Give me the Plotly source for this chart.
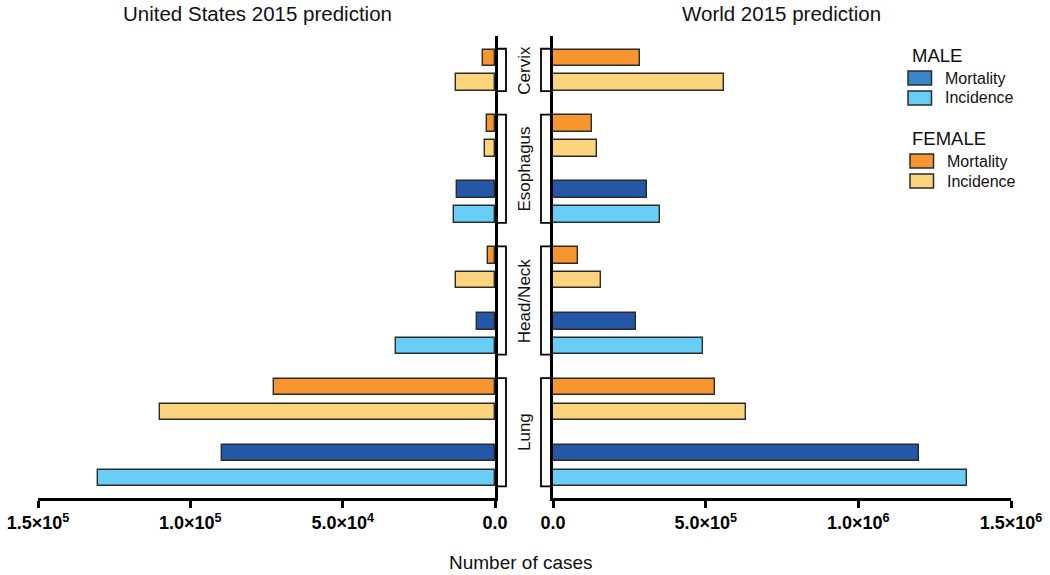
import plotly.graph_objects as go

# ---------------- data ----------------
categories = ["Cervix", "Esophagus", "Head/Neck", "Lung"]

us_female_mortality = [3940, 2740, 2410, 72640]
us_female_incidence = [12700, 3280, 12900, 110060]
us_male_mortality = [None, 12470, 5800, 89600]
us_male_incidence = [None, 13460, 32500, 130200]

world_female_mortality = [285000, 129000, 82000, 532000]
world_female_incidence = [560000, 144000, 158000, 631000]
world_male_mortality = [None, 307000, 271000, 1200000]
world_male_incidence = [None, 352000, 490000, 1355000]

us_ticks = [150000, 100000, 50000, 0]
us_ticktext = ["1.5×10<sup>5</sup>", "1.0×10<sup>5</sup>", "5.0×10<sup>4</sup>", "0.0"]
world_ticks = [0, 500000, 1000000, 1500000]
world_ticktext = ["0.0", "5.0×10<sup>5</sup>", "1.0×10<sup>6</sup>", "1.5×10<sup>6</sup>"]

# ---------------- style ----------------
W, H = 1050, 575
FONT = "Liberation Sans, Arial, sans-serif"
C_MM = "#2457A6"      # male mortality (bars)
C_MM_LEG = "#3A86C8"  # male mortality (legend swatch)
C_MI = "#68CEF5"
C_FM = "#F7962F"
C_FI = "#FDD47E"
OUT = "#2b2b2b"

def px_x(p):
    return p / W

def px_y(p):
    return 1 - p / H

# ---------------- bar slot positions (computed) ----------------
PAIR = 3   # distance between bars of a pair
GAP = 5    # distance between pairs
pos = {"fm": [], "fi": [], "mm": [], "mi": []}
groups = []
cur = 0
for i, cat in enumerate(categories):
    start = cur
    pos["fm"].append(cur)
    pos["fi"].append(cur + PAIR)
    end = cur + PAIR
    if us_male_mortality[i] is not None:
        pos["mm"].append(cur + PAIR + GAP)
        pos["mi"].append(cur + 2 * PAIR + GAP)
        end = cur + 2 * PAIR + GAP
    else:
        pos["mm"].append(None)
        pos["mi"].append(None)
    groups.append((cat, start, end))
    cur = end + GAP

y_lo, y_hi = -2.65, groups[-1][2] + 2.45

fig = go.Figure()

def add_bars(vals, key, color, xa, ya, name):
    xs, ys = [], []
    for v, p in zip(vals, pos[key]):
        if v is not None and p is not None:
            xs.append(v)
            ys.append(p)
    fig.add_trace(go.Bar(
        x=xs, y=ys, orientation="h", width=2, name=name,
        marker=dict(color=color, line=dict(color=OUT, width=1.4)),
        xaxis=xa, yaxis=ya, showlegend=False, hoverinfo="x"))

add_bars(us_female_mortality, "fm", C_FM, "x", "y", "Female mortality")
add_bars(us_female_incidence, "fi", C_FI, "x", "y", "Female incidence")
add_bars(us_male_mortality, "mm", C_MM, "x", "y", "Male mortality")
add_bars(us_male_incidence, "mi", C_MI, "x", "y", "Male incidence")
add_bars(world_female_mortality, "fm", C_FM, "x2", "y2", "Female mortality")
add_bars(world_female_incidence, "fi", C_FI, "x2", "y2", "Female incidence")
add_bars(world_male_mortality, "mm", C_MM, "x2", "y2", "Male mortality")
add_bars(world_male_incidence, "mi", C_MI, "x2", "y2", "Male incidence")

ydom = [px_y(498), px_y(36)]
axis_common = dict(showline=True, linecolor="black", linewidth=2.5, showgrid=False,
                   zeroline=False, ticks="outside", ticklen=7, tickwidth=2.5,
                   tickcolor="black", fixedrange=True, automargin=False,
                   tickfont=dict(family=FONT, size=18, color="black"))
yaxis_common = dict(showline=True, linecolor="black", linewidth=2.5, showgrid=False,
                    zeroline=False, showticklabels=False, ticks="", fixedrange=True,
                    automargin=False, range=[y_hi, y_lo], domain=ydom)

fig.update_layout(
    width=W, height=H,
    margin=dict(l=0, r=0, t=0, b=0, autoexpand=False),
    paper_bgcolor="white", plot_bgcolor="white",
    showlegend=False, bargap=0,
    xaxis=dict(domain=[px_x(38), px_x(495)], range=[150000, 0], anchor="y",
               tickvals=us_ticks, ticktext=["<b>%s</b>" % t for t in us_ticktext],
               **axis_common),
    xaxis2=dict(domain=[px_x(553), px_x(1011)], range=[0, 1500000], anchor="y2",
                tickvals=world_ticks, ticktext=["<b>%s</b>" % t for t in world_ticktext],
                **axis_common),
    yaxis=dict(anchor="x", side="right", **yaxis_common),
    yaxis2=dict(anchor="x2", side="left", **yaxis_common),
)

shapes = []
annotations = []

# brackets and category labels
for cat, start, end in groups:
    top, bot = start - 1.1, end + 1.05
    xl_v, xl_t = px_x(506), px_x(497)
    shapes.append(dict(type="path", xref="paper", yref="y",
                       path=f"M {xl_t},{top} L {xl_v},{top} L {xl_v},{bot} L {xl_t},{bot}",
                       line=dict(color="black", width=1.8)))
    xr_v, xr_t = px_x(541), px_x(551)
    shapes.append(dict(type="path", xref="paper", yref="y",
                       path=f"M {xr_t},{top} L {xr_v},{top} L {xr_v},{bot} L {xr_t},{bot}",
                       line=dict(color="black", width=1.8)))
    annotations.append(dict(xref="paper", yref="y", x=px_x(524.5), y=(start + end) / 2,
                            text=cat, showarrow=False, textangle=-90,
                            xanchor="center", yanchor="middle",
                            font=dict(family=FONT, size=17, color="#111")))

# titles
annotations.append(dict(xref="paper", yref="paper", x=px_x(257), y=px_y(14),
                        text="United States 2015 prediction", showarrow=False,
                        xanchor="center", yanchor="middle",
                        font=dict(family=FONT, size=20.5, color="#111")))
annotations.append(dict(xref="paper", yref="paper", x=px_x(781), y=px_y(14),
                        text="World 2015 prediction", showarrow=False,
                        xanchor="center", yanchor="middle",
                        font=dict(family=FONT, size=20.5, color="#111")))
annotations.append(dict(xref="paper", yref="paper", x=px_x(521), y=px_y(562),
                        text="Number of cases", showarrow=False,
                        xanchor="center", yanchor="middle",
                        font=dict(family=FONT, size=19, color="#111")))

# legend (drawn)
legend_groups = [
    ("MALE", 55, [("Mortality", C_MM_LEG, 78), ("Incidence", C_MI, 98)], 908),
    ("FEMALE", 138, [("Mortality", C_FM, 161), ("Incidence", C_FI, 181)], 910),
]
for title, ty, items, sx in legend_groups:
    annotations.append(dict(xref="paper", yref="paper", x=px_x(910), y=px_y(ty),
                            text=title, showarrow=False, xanchor="left", yanchor="middle",
                            font=dict(family=FONT, size=18.5, color="#111")))
    for label, col, cy in items:
        shapes.append(dict(type="rect", xref="paper", yref="paper",
                           x0=px_x(sx), x1=px_x(sx + 23.5), y0=px_y(cy - 7), y1=px_y(cy + 7),
                           fillcolor=col, line=dict(color=OUT, width=1.5)))
        annotations.append(dict(xref="paper", yref="paper", x=px_x(sx + 35), y=px_y(cy),
                                text=label, showarrow=False, xanchor="left", yanchor="middle",
                                font=dict(family=FONT, size=16, color="#111")))

fig.update_layout(shapes=shapes, annotations=annotations)
fig.write_html("out.html", config={"displayModeBar": False},
               post_script="document.body.style.margin='0px';document.body.style.overflow='hidden';")
